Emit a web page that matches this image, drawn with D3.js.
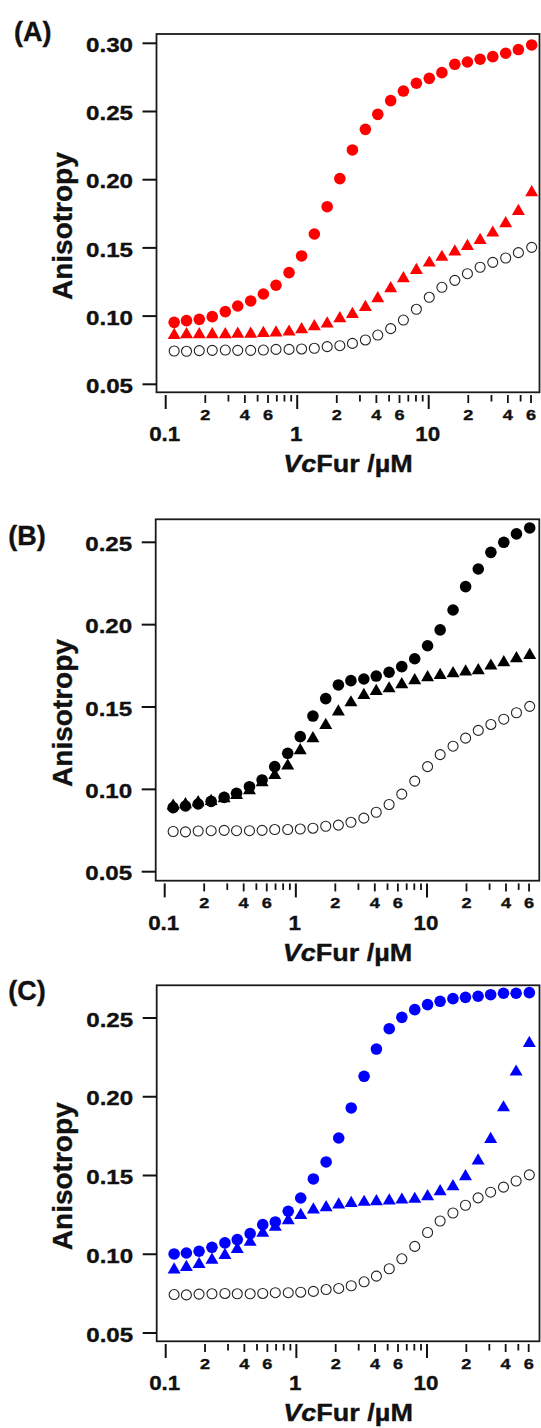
<!DOCTYPE html>
<html>
<head>
<meta charset="utf-8">
<script src="https://cdn.jsdelivr.net/npm/d3@7/dist/d3.min.js"></script>
<style>
  body { margin: 0; background: #fff; }
  svg { display: block; font-family: "Liberation Sans", Arial, sans-serif; font-weight: bold; }
  svg text { stroke: #111; stroke-width: 0.35px; }
</style>
</head>
<body>
<div id="chart"></div>
<script>
// concentrations of VcFur (µM), same for every series
const conc = [0.116, 0.144, 0.180, 0.226, 0.284, 0.353, 0.443, 0.553, 0.690, 0.867,
  1.08, 1.35, 1.69, 2.11, 2.63, 3.30, 4.10, 5.14, 6.42, 8.06,
  10.1, 12.6, 15.8, 19.7, 24.6, 30.7, 38.5, 48.1, 60.7];

// open circles (same control in every panel)
const control = [0.0744, 0.0742, 0.0747, 0.0749, 0.0751, 0.0749, 0.0749, 0.0751, 0.0756, 0.0756,
  0.0759, 0.0764, 0.0776, 0.0783, 0.0800, 0.0825, 0.0861, 0.0908, 0.0971, 0.1050,
  0.1138, 0.1211, 0.1262, 0.1311, 0.1358, 0.1394, 0.1426, 0.1465, 0.1504];

// (A) red
const redCircle = [0.0954, 0.0967, 0.0976, 0.0996, 0.1033, 0.1074, 0.1111, 0.1162, 0.1226, 0.1319,
  0.1441, 0.1602, 0.1802, 0.2008, 0.2218, 0.2369, 0.2479, 0.2580, 0.2650, 0.2707,
  0.2743, 0.2785, 0.2846, 0.2863, 0.2883, 0.2902, 0.2927, 0.2954, 0.2988];
const redTriangle = [0.0874, 0.0879, 0.0879, 0.0879, 0.0879, 0.0883, 0.0883, 0.0888, 0.0891, 0.0898,
  0.0915, 0.0937, 0.0957, 0.0996, 0.1028, 0.1079, 0.1143, 0.1216, 0.1289, 0.1350,
  0.1404, 0.1446, 0.1485, 0.1526, 0.1570, 0.1624, 0.1692, 0.1783, 0.1920];

// (B) black
const blackCircle = [0.0889, 0.0899, 0.0911, 0.0927, 0.0951, 0.0976, 0.1016, 0.1057, 0.1138, 0.1219,
  0.1320, 0.1445, 0.1551, 0.1634, 0.1660, 0.1670, 0.1688, 0.1711, 0.1745, 0.1793,
  0.1872, 0.1968, 0.2089, 0.2231, 0.2338, 0.2439, 0.2500, 0.2551, 0.2587];
const blackTriangle = [0.0911, 0.0919, 0.0931, 0.0939, 0.0955, 0.0976, 0.1004, 0.1053, 0.1097, 0.1154,
  0.1247, 0.1320, 0.1401, 0.1482, 0.1538, 0.1583, 0.1607, 0.1623, 0.1648, 0.1672,
  0.1690, 0.1704, 0.1715, 0.1725, 0.1733, 0.1761, 0.1781, 0.1806, 0.1826];

// (C) blue
const blueCircle = [0.1002, 0.1008, 0.1019, 0.1044, 0.1072, 0.1093, 0.1131, 0.1188, 0.1205, 0.1273,
  0.1357, 0.1478, 0.1586, 0.1738, 0.1929, 0.2130, 0.2303, 0.2432, 0.2504, 0.2553,
  0.2585, 0.2606, 0.2623, 0.2631, 0.2638, 0.2648, 0.2657, 0.2657, 0.2661];
const blueTriangle = [0.0913, 0.0930, 0.0949, 0.0976, 0.1006, 0.1044, 0.1089, 0.1146, 0.1184, 0.1226,
  0.1260, 0.1294, 0.1309, 0.1326, 0.1336, 0.1343, 0.1347, 0.1351, 0.1357, 0.1362,
  0.1379, 0.1410, 0.1442, 0.1506, 0.1605, 0.1742, 0.1943, 0.2170, 0.2352];

// ticks
const yTicksA = [0.05, 0.10, 0.15, 0.20, 0.25, 0.30];
const yTicksBC = [0.05, 0.10, 0.15, 0.20, 0.25];
const xMajor = [0.1, 1, 10];
const xMinor = [0.2, 0.3, 0.4, 0.5, 0.6, 0.7, 0.8, 0.9, 2, 3, 4, 5, 6, 7, 8, 9, 20, 30, 40, 50, 60];
const xMinorLabelled = [0.2, 0.4, 0.6, 2, 4, 6, 20, 40, 60];
const panelNames = ['(A)', '(B)', '(C)'];

const W = 541, H = 1428;
const svg = d3.select('#chart').append('svg')
  .attr('width', W)
  .attr('height', H);

// layout of each panel (pixels)
const panels = [
  { name: panelNames[0], left: 156.5, right: 539.5, top: 34, bottom: 392.3,
    yTicks: yTicksA, yDom: [0.05, 0.30], yRange: [384.3, 43.3], xRange: [165.7, 428.7],
    series: [
      { data: redCircle, shape: 'circle', color: '#ff0000' },
      { data: redTriangle, shape: 'triangle', color: '#ff0000' },
      { data: control, shape: 'open' }
    ],
    labelX: 14, labelY: 41 },
  { name: panelNames[1], left: 155.7, right: 539.3, top: 519.3, bottom: 880.7,
    yTicks: yTicksBC, yDom: [0.05, 0.25], yRange: [871.7, 542.3], xRange: [164.7, 427.0],
    series: [
      { data: blackCircle, shape: 'circle', color: '#000000' },
      { data: blackTriangle, shape: 'triangle', color: '#000000' },
      { data: control, shape: 'open' }
    ],
    labelX: 8.3, labelY: 545 },
  { name: panelNames[2], left: 156.7, right: 539.5, top: 985.3, bottom: 1341.3,
    yTicks: yTicksBC, yDom: [0.05, 0.25], yRange: [1333, 1018], xRange: [165.7, 427.0],
    series: [
      { data: blueCircle, shape: 'circle', color: '#0000ff' },
      { data: blueTriangle, shape: 'triangle', color: '#0000ff' },
      { data: control, shape: 'open' }
    ],
    labelX: 8.3, labelY: 999.5 }
];

// small helper: horizontally stretched text, like the original figure
function stretchedText(g, x, y, txt, size, sx, anchor) {
  return g.append('text')
    .attr('transform', `translate(${x},${y}) scale(${sx},1)`)
    .attr('text-anchor', anchor)
    .style('font-size', size + 'px')
    .style('fill', '#111')
    .text(txt);
}

function triPath(cx, cy, w, h) {
  return `M${cx},${cy - h / 2}L${cx + w / 2},${cy + h / 2}L${cx - w / 2},${cy + h / 2}Z`;
}

panels.forEach(p => {
  const g = svg.append('g');
  const x = d3.scaleLog().domain([0.1, 10]).range(p.xRange);
  const y = d3.scaleLinear().domain(p.yDom).range(p.yRange);

  // points
  p.series.forEach(s => {
    const pts = conc.map((c, i) => ({ c, v: s.data[i] }));
    if (s.shape === 'circle') {
      g.selectAll(null).data(pts).join('circle')
        .attr('cx', d => x(d.c))
        .attr('cy', d => y(d.v))
        .attr('r', 5.8)
        .attr('fill', s.color);
    } else if (s.shape === 'triangle') {
      g.selectAll(null).data(pts).join('path')
        .attr('d', d => triPath(x(d.c), y(d.v), 13, 11.2))
        .attr('fill', s.color);
    } else {
      g.selectAll(null).data(pts).join('circle')
        .attr('cx', d => x(d.c))
        .attr('cy', d => y(d.v))
        .attr('r', 5)
        .attr('fill', '#fff')
        .attr('stroke', '#222')
        .attr('stroke-width', 1.1);
    }
  });

  // frame
  g.append('rect')
    .attr('x', p.left)
    .attr('y', p.top)
    .attr('width', p.right - p.left)
    .attr('height', p.bottom - p.top)
    .attr('fill', 'none')
    .attr('stroke', '#1a1a1a')
    .attr('stroke-width', 1.8);

  // y ticks and labels
  p.yTicks.forEach(t => {
    g.append('line')
      .attr('x1', p.left - 14).attr('x2', p.left)
      .attr('y1', y(t)).attr('y2', y(t))
      .attr('stroke', '#111').attr('stroke-width', 2);
    stretchedText(g, p.left - 23.5, y(t) + 8.6, d3.format('.2f')(t), 21, 1.15, 'end');
  });

  // x ticks (detached from the frame, as in the original)
  const t0 = p.bottom + 2.7;
  xMajor.forEach(t => {
    g.append('line')
      .attr('x1', x(t)).attr('x2', x(t))
      .attr('y1', t0).attr('y2', t0 + 14)
      .attr('stroke', '#111').attr('stroke-width', 2);
    stretchedText(g, x(t) - 1, p.bottom + 48.8, d3.format('~g')(t), 20, 1.12, 'middle');
  });
  xMinor.forEach(t => {
    const lab = xMinorLabelled.includes(t);
    g.append('line')
      .attr('x1', x(t)).attr('x2', x(t))
      .attr('y1', t0).attr('y2', t0 + (lab ? 8 : 6.5))
      .attr('stroke', '#111').attr('stroke-width', 1.8);
    if (lab) {
      const digit = String(Math.round(t / Math.pow(10, Math.floor(Math.log10(t) + 1e-9))));
      stretchedText(g, x(t), p.bottom + 27.5, digit, 14.5, 1.25, 'middle');
    }
  });

  // x title
  const xt = g.append('text')
    .attr('transform', `translate(${(p.left + p.right) / 2},${p.bottom + 80}) scale(1.15,1)`)
    .attr('text-anchor', 'middle')
    .style('font-size', '23.5px')
    .style('fill', '#111');
  xt.append('tspan').style('font-style', 'italic').text('Vc');
  xt.append('tspan').text('Fur /µM');

  // y title
  g.append('text')
    .attr('transform', `translate(71.5,${(p.top + p.bottom) / 2 + 13}) rotate(-90)`)
    .attr('text-anchor', 'middle')
    .style('font-size', '28px')
    .style('fill', '#111')
    .text('Anisotropy');

  // panel letter
  g.append('text')
    .attr('x', p.labelX)
    .attr('y', p.labelY)
    .style('font-size', '27px')
    .style('fill', '#111')
    .text(p.name);
});
</script>
</body>
</html>
